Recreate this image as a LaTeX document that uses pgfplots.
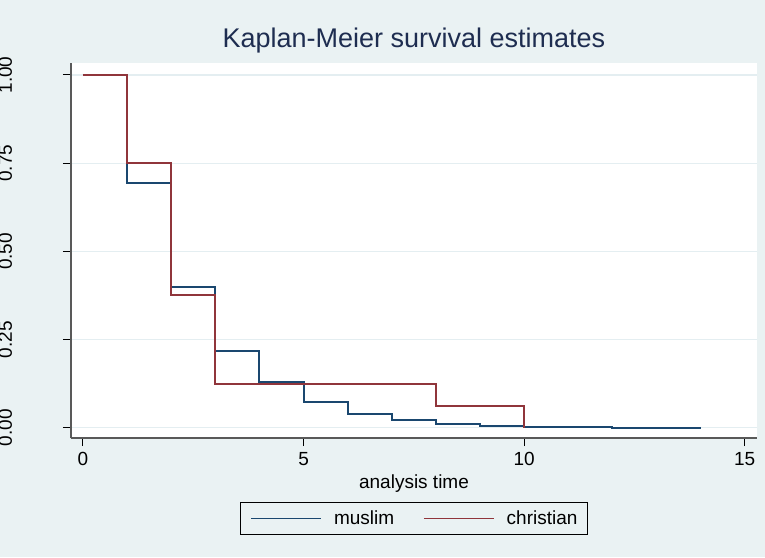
\documentclass[border=0pt]{standalone}
\usepackage{fontspec}
\setmainfont{Liberation Sans}
\usepackage{pgfplots}
\pgfplotsset{compat=1.18}
\definecolor{bgc}{HTML}{EAF2F3}
\definecolor{gridc}{HTML}{E4EEF1}
\definecolor{navy}{HTML}{1A476F}
\definecolor{maroon}{HTML}{90353B}
\definecolor{titlec}{HTML}{1E2D50}
\begin{document}
\begin{tikzpicture}
\fill[bgc] (-71pt,-119pt) rectangle (694pt,438pt);
\begin{axis}[
  at={(0pt,0pt)}, anchor=south west,
  scale only axis, width=686pt, height=375pt,
  xmin=-0.272, xmax=15.28, ymin=-0.029, ymax=1.034,
  axis background/.style={fill=white},
  axis x line*=bottom, axis y line*=left,
  axis line style={draw=black!65, line width=1.2pt, -},
  tick align=outside, major tick length=8pt,
  tick style={black, line width=1pt},
  xtick={0,5,10,15},
  ytick={0,0.25,0.5,0.75,1},
  yticklabels={0.00,0.25,0.50,0.75,1.00},
  /pgf/number format/assume math mode=true,
  ymajorgrids, major grid style={gridc, line width=1.2pt},
  ticklabel style={font=\fontsize{19}{22}\selectfont},
  yticklabel style={rotate=90, anchor=base},
  yticklabel shift=51pt,
  xticklabel style={anchor=base},
  xticklabel shift=19pt,
  title={Kaplan-Meier survival estimates},
  title style={at={(axis description cs:0.5,1)}, anchor=base, yshift=9pt, text=titlec, font=\fontsize{27}{30}\selectfont},
  xlabel={analysis time},
  xlabel style={at={(axis description cs:0.5,0)}, anchor=base, yshift=-50pt, font=\fontsize{19}{22}\selectfont},
  legend columns=2,
  legend style={at={(axis description cs:0.5,-0.1707)}, anchor=north, draw=black, line width=0.8pt, fill=bgc,
    font=\fontsize{19}{22}\selectfont, inner xsep=10pt, inner ysep=2pt,
    nodes={inner xsep=0pt, inner ysep=6.5pt},
    /tikz/every odd column/.append style={column sep=12pt},
    /tikz/every even column/.append style={column sep=29pt}},
  legend image code/.code={\draw[#1, line width=1.5pt] (0pt,0pt) -- (70pt,0pt);},
]
\addplot[const plot, draw=navy, line width=2pt] coordinates {
(0,1) (1,0.693) (2,0.398) (3,0.219) (4,0.131) (5,0.074) (6,0.040) (7,0.023) (8,0.012) (9,0.006) (10,0.001) (12,0.0002) (14,0.0002)};
\addlegendentry{muslim}
\addplot[const plot, draw=maroon, line width=2pt] coordinates {
(0,1) (1,0.75) (2,0.375) (3,0.125) (8,0.0625) (10,0)};
\addlegendentry{christian}
\end{axis}
\pgfresetboundingbox
\path[use as bounding box] (-71pt,-119pt) rectangle (694pt,438pt);
\end{tikzpicture}
\end{document}
